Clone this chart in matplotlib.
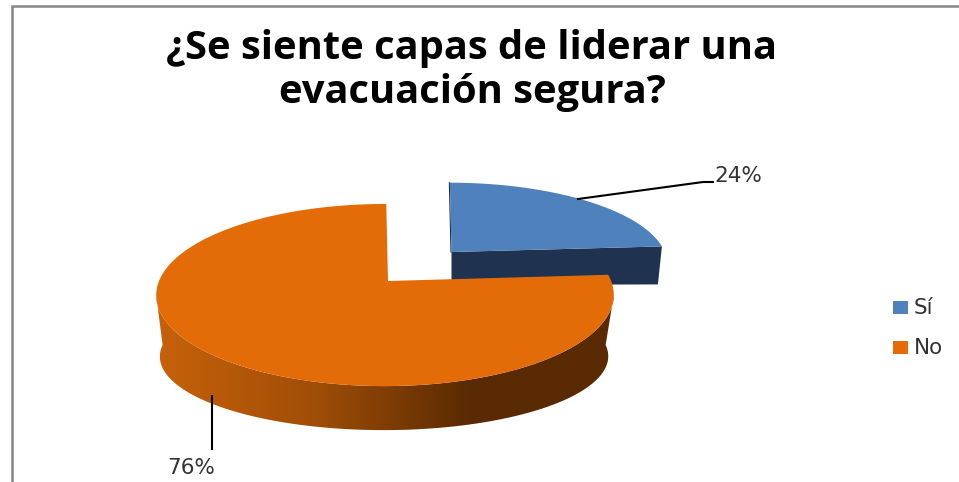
"""
Pie chart (fake 3D, exploded slice) drawn in pixel coordinates of the original image.
"""

import numpy as np
import matplotlib
matplotlib.use('Agg')
import matplotlib.pyplot as plt
from matplotlib.patches import Polygon, Rectangle
from matplotlib.colors import LinearSegmentedColormap

# Data
categories = ['Sí', 'No']
values = [24, 76]
title_lines = ['¿Se siente capas de liderar una', 'evacuación segura?']

# Colors
c_blue = '#4F81BD'
c_blue_side = '#1F3350'
c_orange = '#E36C09'
c_text = '#333333'
c_border = '#868686'
side_cmap = LinearSegmentedColormap.from_list(
    'side', [(0, '#C9620A'), (0.35, '#A04E07'), (0.68, '#5A2A02'), (1, '#5A2A02')])

START = 90.5


def rim(theta_deg, ax0, ay0, rx, ry, k=0.154, m=0.013):
    # perspective projection of the unit circle, apex stays at (ax0, ay0)
    t = np.radians(theta_deg)
    u, v = np.cos(t), np.sin(t)
    w = 1 + m * u + k * v
    return ax0 + rx * u / w, ay0 - ry * v / w


fig = plt.figure(figsize=(9.59, 4.82), dpi=100)
ax = fig.add_axes([0, 0, 1, 1])
ax.axis('off')

# Chart border (only top and left are in the crop)
ax.plot([11.5, 11.5, 959], [482, 6, 6], color=c_border, lw=1.8, solid_joinstyle='miter')

# Slice angles come from the values
span_blue = 360 * values[0] / sum(values)
end_blue = START - span_blue

# --- Blue slice ---
th = np.linspace(START, end_blue, 80)
bx, by = rim(th, 451.5, 252, 216, 80)
ax.add_patch(Polygon([(451.5, 252), (bx[-1], by[-1]), (bx[-1] - 4, by[-1] + 38), (451.5, 285)],
                     closed=True, fc=c_blue_side, ec='none', zorder=2))
ax.add_patch(Polygon(np.r_[[(451.5, 252)], np.c_[bx, by]], closed=True, fc=c_blue, ec='none', zorder=3))
# thin dark edge on the left of the slice
ax.plot([bx[0] - 0.5, 451], [by[0], 252], color=c_blue_side, lw=0.8, zorder=2)

# --- Orange slice: side wall, gradient clipped to the outline ---
x_top_apex, y_top_apex = 388, 281
RX, RY = 226, 88.9
sx1, sy1 = rim(np.linspace(189, 351, 200), x_top_apex, y_top_apex, RX, RY)
sx2, sy2 = rim(np.linspace(180, 360, 200), x_top_apex - 1, 345, RX * 0.98, 72)
side_outline = Polygon(np.r_[np.c_[sx1, sy1], np.c_[sx2, sy2][::-1]], closed=True,
                       fc='none', ec='none', transform=ax.transData)
ax.add_patch(side_outline)
grad = ax.imshow(np.linspace(0, 1, 256)[None, :], extent=[150, 620, 440, 250], aspect='auto',
                 cmap=side_cmap, zorder=4)
grad.set_clip_path(side_outline)

# --- Orange slice: top face ---
th = np.linspace(end_blue, START - 360, 300)
ox, oy = rim(th, x_top_apex, y_top_apex, RX, RY)
ax.add_patch(Polygon(np.r_[[(x_top_apex, y_top_apex)], np.c_[ox, oy]], closed=True,
                     fc=c_orange, ec='none', zorder=5))

# Leader lines and data labels
ax.plot([578, 703, 713], [199, 182, 182], color='black', lw=1.5, zorder=6)
ax.plot([212, 212], [396, 449], color='black', lw=1.5, zorder=6)
ax.text(738.5, 176, f'{values[0]}%', fontsize=15.5, color=c_text, ha='center', va='center')
ax.text(191, 468, f'{values[1]}%', fontsize=15.5, color=c_text, ha='center', va='center')

# Title
ax.text(472, 48, title_lines[0], fontsize=28.7, fontweight='bold', family='Open Sans',
        color='black', ha='center', va='center')
ax.text(472, 92, title_lines[1], fontsize=28.7, fontweight='bold', family='Open Sans',
        color='black', ha='center', va='center')

# Legend
for cat, col, y in zip(categories, [c_blue, c_orange], [307.5, 347.5]):
    ax.add_patch(Rectangle((892.5, y - 6.5), 15, 13, fc=col, ec='none'))
    ax.text(914, y, cat, fontsize=15.5, color=c_text, ha='left', va='center')

ax.set_xlim(0, 959)
ax.set_ylim(482, 0)
fig.savefig('out.png', dpi=100, facecolor='white')
